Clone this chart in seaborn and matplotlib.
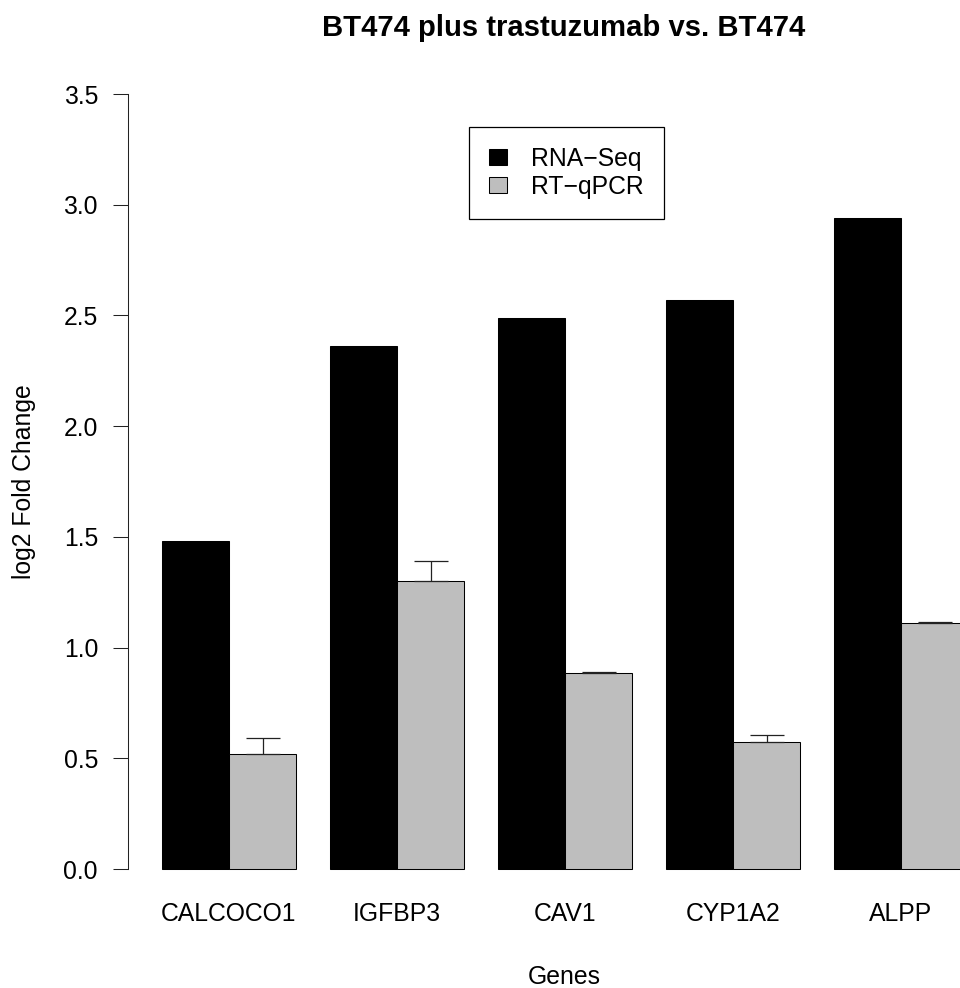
import numpy as np
import pandas as pd
import matplotlib
matplotlib.use("Agg")
import matplotlib.pyplot as plt
from matplotlib.patches import Patch
import seaborn as sns

# data
genes = ["CALCOCO1", "IGFBP3", "CAV1", "CYP1A2", "ALPP"]
methods = ["RNA\u2212Seq", "RT\u2212qPCR"]
rna_seq = [1.48, 2.36, 2.488, 2.57, 2.94]
rt_qpcr = [0.519, 1.302, 0.886, 0.574, 1.11]
rt_qpcr_err = [0.071, 0.089, 0.004, 0.033, 0.005]
yticks = [0.0, 0.5, 1.0, 1.5, 2.0, 2.5, 3.0, 3.5]
colors = {methods[0]: "black", methods[1]: "#BEBEBE"}

sns.set_style("white")
plt.rcParams['font.family'] = ['Liberation Sans', 'DejaVu Sans']
plt.rcParams['text.color'] = 'black'
plt.rcParams['axes.labelcolor'] = 'black'
plt.rcParams['xtick.color'] = 'black'
plt.rcParams['ytick.color'] = 'black'

df = pd.DataFrame({
    "gene": genes + genes,
    "method": [methods[0]] * len(genes) + [methods[1]] * len(genes),
    "value": rna_seq + rt_qpcr,
})

fs = 17.8
fig = plt.figure(figsize=(9.6, 9.88), dpi=100)
# plot region runs past the right edge of the picture, like the cropped original
ax = fig.add_axes([128 / 960, 119 / 988, 872 / 960, 775 / 988])

sns.barplot(data=df, x="gene", y="value", hue="method", order=genes,
            hue_order=methods, palette=colors, width=0.8, gap=0,
            saturation=1, edgecolor="black", linewidth=0.75,
            errorbar=None, legend=False, ax=ax)
for p in ax.patches:
    p.set_clip_on(False)

# upper error bars on the RT-qPCR bars
xpos = np.arange(len(genes)) + 0.2
ax.errorbar(xpos, rt_qpcr, yerr=[np.zeros(len(genes)), rt_qpcr_err],
            fmt="none", ecolor="#222222", elinewidth=0.9, capsize=12.2,
            capthick=0.9, zorder=5, clip_on=False)

ax.set_xlim(-0.601, 4.589)
ax.set_ylim(0, 3.5)
ax.set_yticks(yticks)
ax.set_yticklabels([f"{t:.1f}" for t in yticks])

sns.despine(ax=ax, top=True, right=True, bottom=True)
ax.spines["left"].set_bounds(0, 3.5)
ax.spines["left"].set_linewidth(0.75)
ax.spines["left"].set_color("#222222")
ax.tick_params(axis="y", length=10.8, width=0.75, pad=10.8,
               labelsize=fs, color="#222222", left=True)
ax.tick_params(axis="x", length=0, pad=23.5, labelsize=fs)

ax.set_title("BT474 plus trastuzumab vs. BT474", fontsize=21.1,
             fontweight="bold", pad=41.8)
ax.set_xlabel("Genes", fontsize=fs, labelpad=28)
ax.set_ylabel("log2 Fold Change", fontsize=fs)
ax.yaxis.set_label_coords(36.5 / 960, 1 - 481.5 / 988, transform=fig.transFigure)

handles = [Patch(facecolor=colors[m], edgecolor="black", linewidth=0.75) for m in methods]
leg = ax.legend(handles, methods, loc="upper left",
                bbox_to_anchor=(469 / 960, 1 - 127.3 / 988),
                bbox_transform=fig.transFigure, borderaxespad=0,
                fancybox=False, edgecolor="black", framealpha=1,
                fontsize=fs, handlelength=0.72, handleheight=0.62,
                handletextpad=1.0, labelspacing=0.15, borderpad=0.8)
leg.get_frame().set_linewidth(0.9)

fig.savefig("out.png", dpi=100)
